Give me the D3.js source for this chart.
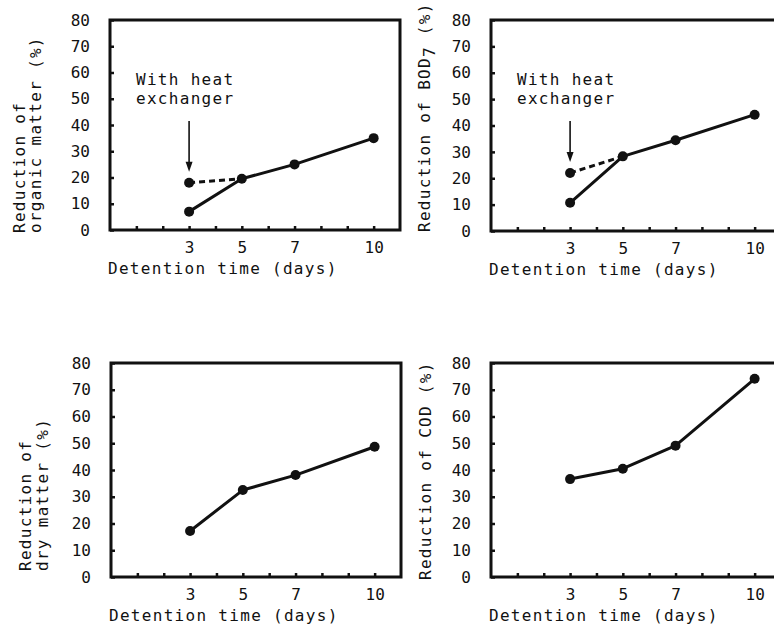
<!DOCTYPE html>
<html>
<head>
<meta charset="utf-8">
<script src="https://cdn.jsdelivr.net/npm/d3@7"></script>
<style>
  body { margin: 0; background: #fff; }
  text { font-family: "DejaVu Sans Mono", monospace; fill: #111; }
  .axis path, .axis line { stroke: #111; }
  .lbl { font-size: 16px; letter-spacing: 1.3px; }
</style>
</head>
<body>
<div id="chart"></div>
<script>
// values
const days = [3, 5, 7, 10];
const organicMatter = [7, 19.5, 25, 35];
const organicHeatDays = [3, 5];
const organicHeat = [18, 19.5];
const bod7 = [10.7, 28.3, 34.4, 44.1];
const bod7HeatDays = [3, 5];
const bod7Heat = [22, 28.3];
const dryMatter = [17.2, 32.5, 38.1, 48.7];
const cod = [36.6, 40.5, 49.1, 74.1];

const xLabelTicks = [3, 5, 7, 10];
const xMinorTicks = [1, 2, 3, 4, 5, 6, 7, 8, 9, 10];
const yTicks = [0, 10, 20, 30, 40, 50, 60, 70, 80];
const xTitle = "Detention time (days)";

const W = 774, H = 628;
const svg = d3.select("#chart").append("svg")
    .attr("width", W)
    .attr("height", H);

function drawPanel(p) {
    const x = d3.scaleLinear().domain([0, 11]).range([p.left, p.left + 290]);
    const y = d3.scaleLinear().domain([0, 80]).range([p.bottom, p.top]);
    const g = svg.append("g");

    // frame
    g.append("rect")
        .attr("x", x(0)).attr("y", y(80))
        .attr("width", x(11) - x(0)).attr("height", y(0) - y(80))
        .attr("fill", "none").attr("stroke", "#111").attr("stroke-width", 3);

    // x axis, inward ticks
    const xa = g.append("g")
        .attr("class", "axis")
        .attr("transform", `translate(0,${y(0)})`)
        .call(d3.axisBottom(x).tickValues(xMinorTicks).tickSize(-4).tickPadding(12)
            .tickFormat(d => xLabelTicks.includes(d) ? d : ""));
    xa.select(".domain").remove();
    xa.selectAll("line").attr("stroke-width", 2.5);
    xa.selectAll("text").attr("font-size", 16).attr("font-family", "DejaVu Sans Mono");

    // y axis, inward ticks
    const ya = g.append("g")
        .attr("class", "axis")
        .attr("transform", `translate(${x(0)},0)`)
        .call(d3.axisLeft(y).tickValues(yTicks).tickSize(-4).tickPadding(20));
    ya.select(".domain").remove();
    ya.selectAll("line").attr("stroke-width", 2.5);
    ya.selectAll("text").attr("font-size", 16).attr("font-family", "DejaVu Sans Mono");

    // x title
    g.append("text").attr("class", "lbl")
        .attr("x", x(0) - 2).attr("y", y(0) + 44)
        .text(xTitle);

    // y title (rotated)
    p.yTitle.forEach((t, i) => {
        const tx = g.append("text").attr("class", "lbl")
            .attr("transform", `translate(${p.titleX[i]},${p.titleY}) rotate(-90)`);
        if (Array.isArray(t)) {
            t.forEach(part => {
                tx.append("tspan").attr("dy", part.dy || 0).text(part.s);
            });
        } else {
            tx.text(t);
        }
    });

    const line = d3.line().x(d => x(d[0])).y(d => y(d[1]));

    // dashed "with heat exchanger" segment
    if (p.heat) {
        const hd = p.heat.days.map((d, i) => [d, p.heat.vals[i]]);
        g.append("path").datum(hd)
            .attr("d", line)
            .attr("fill", "none").attr("stroke", "#111")
            .attr("stroke-width", 3).attr("stroke-dasharray", "6,4");
        g.append("circle")
            .attr("cx", x(hd[0][0])).attr("cy", y(hd[0][1])).attr("r", 5).attr("fill", "#111");

        // arrow + note
        const ax = x(hd[0][0]);
        const tip = y(hd[0][1]) - 11;
        g.append("line")
            .attr("x1", ax).attr("x2", ax)
            .attr("y1", p.top + 101).attr("y2", tip - 8)
            .attr("stroke", "#111").attr("stroke-width", 1.6);
        g.append("path")
            .attr("d", `M${ax - 3.5},${tip - 10}L${ax + 3.5},${tip - 10}L${ax},${tip}Z`)
            .attr("fill", "#111");
        g.append("text").attr("class", "lbl")
            .attr("x", x(0) + 26).attr("y", p.top + 65).text("With heat");
        g.append("text").attr("class", "lbl")
            .attr("x", x(0) + 26).attr("y", p.top + 84).text("exchanger");
    }

    // main series
    const pts = days.map((d, i) => [d, p.vals[i]]);
    g.append("path").datum(pts)
        .attr("d", line)
        .attr("fill", "none").attr("stroke", "#111")
        .attr("stroke-width", 3).attr("stroke-linejoin", "round");
    g.selectAll(".dot").data(pts).enter().append("circle")
        .attr("cx", d => x(d[0])).attr("cy", d => y(d[1]))
        .attr("r", 5).attr("fill", "#111");
}

drawPanel({
    left: 110, top: 20, bottom: 230,
    vals: organicMatter,
    heat: {days: organicHeatDays, vals: organicHeat},
    yTitle: ["Reduction of", "organic matter (%)"],
    titleX: [25, 41], titleY: 233
});

drawPanel({
    left: 491, top: 20, bottom: 231,
    vals: bod7,
    heat: {days: bod7HeatDays, vals: bod7Heat},
    yTitle: [[{s: "Reduction of BOD"}, {s: "7", dy: "0.3em"}, {s: " (%)", dy: "-0.3em"}]],
    titleX: [430], titleY: 232
});

drawPanel({
    left: 111, top: 363, bottom: 577,
    vals: dryMatter,
    yTitle: ["Reduction of", "dry matter (%)"],
    titleX: [31, 48], titleY: 571
});

drawPanel({
    left: 491, top: 363, bottom: 577,
    vals: cod,
    yTitle: ["Reduction of COD (%)"],
    titleX: [431], titleY: 580
});
</script>
</body>
</html>
